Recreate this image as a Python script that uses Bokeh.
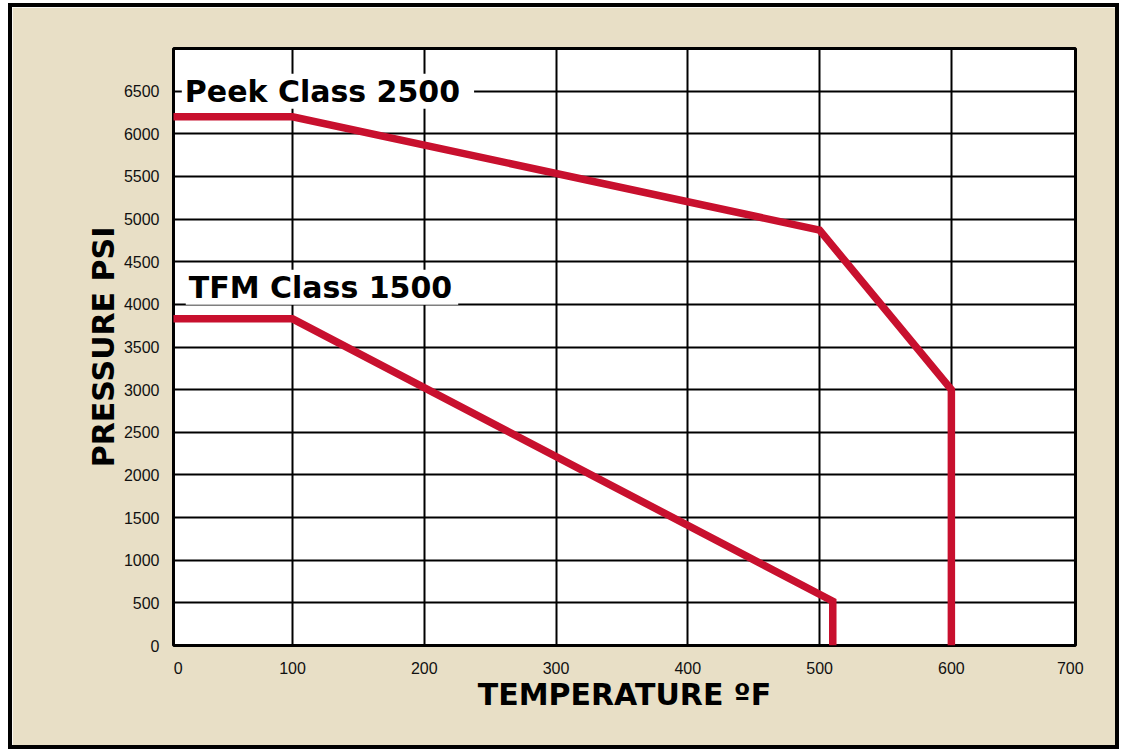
from bokeh.plotting import figure
from bokeh.models import Range1d, FixedTicker, Label, CustomJSTickFormatter
from bokeh.embed import file_html
from bokeh.resources import INLINE

# ---- data ----
temp_ticks = [0, 100, 200, 300, 400, 500, 600, 700]
temp_tick_labels = ["0", "100", "200", "300", "400", "500", "600", "700"]
pressure_ticks = [0, 500, 1000, 1500, 2000, 2500, 3000, 3500, 4000, 4500, 5000, 5500, 6000, 6500]

peek_temp = [0, 100, 500, 600, 600]
peek_psi = [6200, 6200, 4870, 3000, 0]
tfm_temp = [0, 100, 510, 510]
tfm_psi = [3830, 3830, 520, 0]
series_names = ["Peek Class 2500", "TFM Class 1500"]
series_label_psi = [6500, 4200]

# ---- styling ----
BEIGE = "#E8DFC6"
RED = "#C8102E"
TITLE_FONT = "DejaVu Sans"
TICK_FONT = "'Liberation Sans Narrow', 'Liberation Sans', sans-serif"

X_LO, X_HI = 9.7, 694.2
W, H = 1111, 746
FW, FH = 902, 597
ML, MT = 161, 41

p = figure(width=W, height=H,
           x_range=Range1d(X_LO, X_HI), y_range=Range1d(0, 7000),
           output_backend="svg", toolbar_location=None,
           min_border_left=ML, min_border_right=W - ML - FW,
           min_border_top=MT, min_border_bottom=H - MT - FH)
p.styles = {"border": "4px solid black", "margin-left": "8px", "margin-top": "3px"}

p.background_fill_color = "white"
p.border_fill_color = BEIGE
p.outline_line_color = "black"
p.outline_line_width = 3

# grid
p.xgrid.ticker = FixedTicker(ticks=[t for t in temp_ticks if X_LO < t < X_HI])
p.ygrid.ticker = FixedTicker(ticks=pressure_ticks)
for g in (p.xgrid, p.ygrid):
    g.grid_line_color = "black"
    g.grid_line_width = 2
    g.grid_line_alpha = 1.0

# x axis: labels kept inside the frame span like the reference
tick_pos = [min(max(t, X_LO + 3.5), X_HI - 4.0) for t in temp_ticks]
p.xaxis.ticker = FixedTicker(ticks=tick_pos)
p.xaxis.formatter = CustomJSTickFormatter(args=dict(labels=temp_tick_labels),
                                          code="return labels[index];")
p.yaxis.ticker = FixedTicker(ticks=pressure_ticks)

for ax in (p.xaxis, p.yaxis):
    ax.axis_line_color = None
    ax.major_tick_line_color = None
    ax.minor_tick_line_color = None
    ax.major_label_text_font = TICK_FONT
    ax.major_label_text_font_size = "16px"
    ax.major_label_text_color = "#111111"
    ax.axis_label_text_font = TITLE_FONT
    ax.axis_label_text_font_style = "bold"
    ax.axis_label_text_font_size = "30px"
    ax.axis_label_text_color = "black"

p.xaxis.major_label_standoff = 10
p.yaxis.major_label_standoff = 8
p.xaxis.axis_label_standoff = 0
p.yaxis.axis_label_standoff = 0
p.xaxis.axis_label = "TEMPERATURE ºF"
p.yaxis.axis_label = "PRESSURE PSI"

# lines
p.line(peek_temp, peek_psi, line_color=RED, line_width=7.5, line_join="miter")
p.line(tfm_temp, tfm_psi, line_color=RED, line_width=7.5, line_join="miter")

# series labels with white boxes
label_pads = [dict(left=3, right=14, top=0, bottom=0),
              dict(left=3, right=6, top=0, bottom=0)]
for name, yv, xv, pad in zip(series_names, series_label_psi, [16, 19], label_pads):
    p.add_layout(Label(x=xv, y=yv, text=name, text_font=TITLE_FONT,
                       text_font_style="bold", text_font_size="30px",
                       text_color="black", text_baseline="middle",
                       text_align="left", background_fill_color="white",
                       padding=pad))

open("out.html", "w").write(file_html(p, INLINE))
